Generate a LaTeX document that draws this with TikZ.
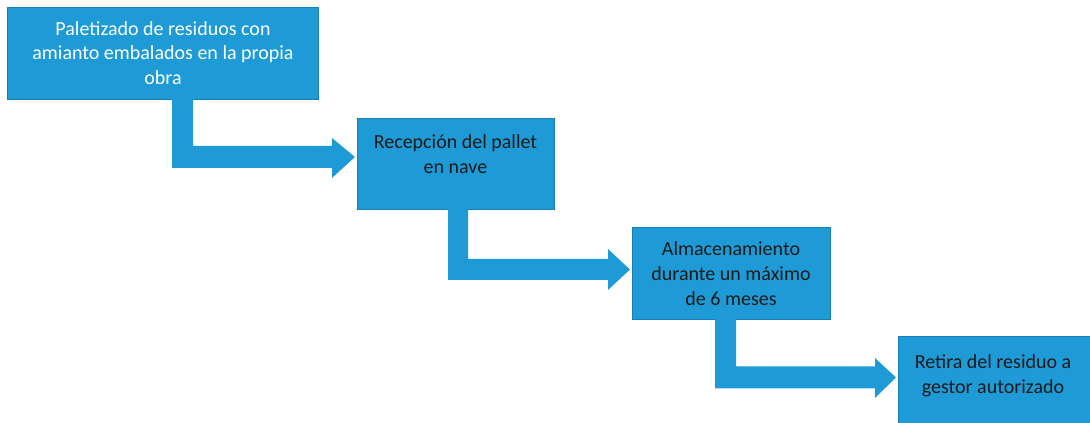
\documentclass[tikz,border=0pt]{standalone}
\usepackage{fontspec}
\setmainfont{Carlito}
\usetikzlibrary{calc}
\definecolor{boxblue}{HTML}{1E9BD7}
\definecolor{boxedge}{HTML}{1A7DB3}
\definecolor{txtdark}{HTML}{1A1A1A}
\tikzset{
  stepbox/.style={rectangle, fill=boxblue, draw=boxedge, line width=0.6pt, inner sep=0pt, outer sep=0pt, anchor=north west},
  steptext/.style={align=center, inner sep=0pt, font=\fontsize{15}{18.6}\selectfont},
  elbow/.style={fill=boxblue, draw=none}
}
\begin{document}
\begin{tikzpicture}[x=0.75pt,y=-0.75pt]
\useasboundingbox (0,0) rectangle (1090,423);
\clip (0,0) rectangle (1090,423);
% boxes
\node[stepbox, minimum width=311*0.75pt, minimum height=92*0.75pt] (b1) at (7,7) {};
\node[stepbox, minimum width=197*0.75pt, minimum height=91*0.75pt] (b2) at (357,118) {};
\node[stepbox, minimum width=198*0.75pt, minimum height=92*0.75pt] (b3) at (632,227) {};
\node[stepbox, minimum width=200*0.75pt, minimum height=95*0.75pt] (b4) at (898,336) {};
% texts
\node[steptext, text=white] (t1) at (163,53) {Paletizado de residuos con\\amianto embalados en la propia\\obra};
\node[steptext, text=txtdark] (t2) at (455.5,154) {Recepción del pallet\\en nave};
\node[steptext, text=txtdark] (t3) at (731,273.5) {Almacenamiento\\durante un máximo\\de 6 meses};
\node[steptext, text=txtdark] (t4) at (993,375.5) {Retira del residuo a\\gestor autorizado};
% arrow reference points
\coordinate (p1) at ($(b2.west)+(-2,-6.5)$);
\coordinate (p2) at ($(b3.west)+(-2,-3.5)$);
\coordinate (p3) at ($(b4.west)+(-2,-6)$);
% elbow arrows
\fill[elbow] ($(b1.south west)+(165,0)$) coordinate (s1) -- ($(b1.south west)+(186,0)$) coordinate (r1)
  -- (r1 |- {$(p1)+(0,-11)$}) -- ($(p1)+(-23,-11)$)
  -- ($(p1)+(-23,-19)$) -- (p1)
  -- ($(p1)+(-23,21)$) -- ($(p1)+(-23,11)$)
  -- (s1 |- {$(p1)+(0,11)$}) -- cycle;
\fill[elbow] ($(b2.south west)+(91,0)$) coordinate (s2) -- ($(b2.south west)+(111,0)$) coordinate (r2)
  -- (r2 |- {$(p2)+(0,-10.5)$}) -- ($(p2)+(-22,-10.5)$)
  -- ($(p2)+(-22,-20.5)$) -- (p2)
  -- ($(p2)+(-22,20.5)$) -- ($(p2)+(-22,10.5)$)
  -- (s2 |- {$(p2)+(0,10.5)$}) -- cycle;
\fill[elbow] ($(b3.south west)+(83,0)$) coordinate (s3) -- ($(b3.south west)+(104,0)$) coordinate (r3)
  -- (r3 |- {$(p3)+(0,-11)$}) -- ($(p3)+(-21,-11)$)
  -- ($(p3)+(-21,-19.5)$) -- (p3)
  -- ($(p3)+(-21,20.5)$) -- ($(p3)+(-21,11)$)
  -- (s3 |- {$(p3)+(0,11)$}) -- cycle;
\end{tikzpicture}
\end{document}
